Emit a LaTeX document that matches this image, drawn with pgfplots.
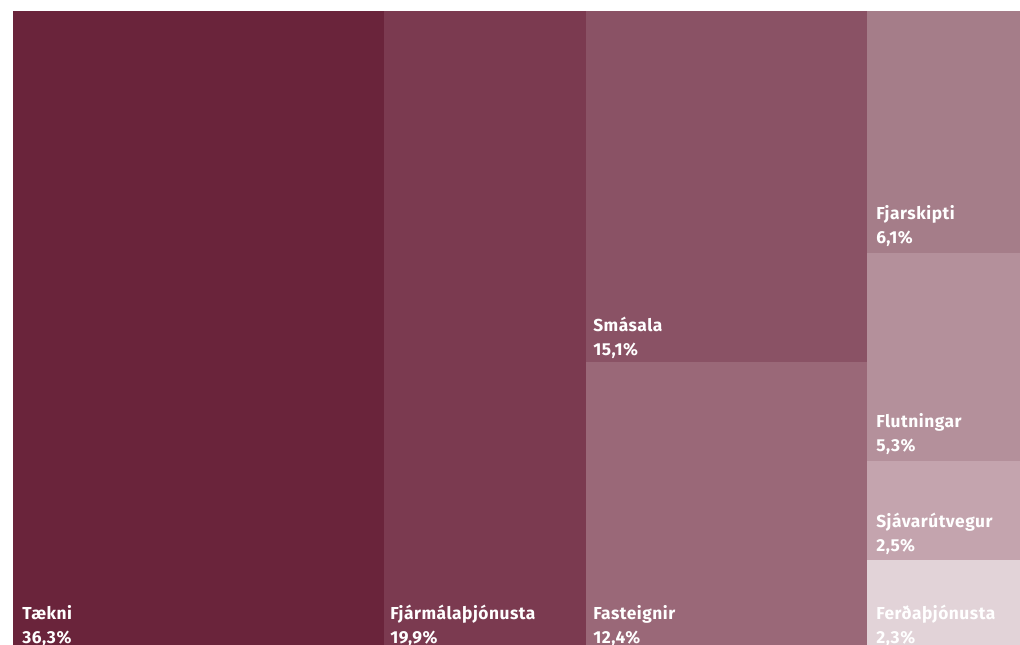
\documentclass[border=0pt]{standalone}
\usepackage{pgfplots}
\pgfplotsset{compat=1.18}
\usepackage{fontspec}
\setmainfont{Fira Sans}[LetterSpace=3]
\definecolor{cA}{HTML}{6A243B}
\definecolor{cB}{HTML}{7B3A50}
\definecolor{cC}{HTML}{8A5265}
\definecolor{cD}{HTML}{9A6878}
\definecolor{cE}{HTML}{A57D89}
\definecolor{cF}{HTML}{B4909B}
\definecolor{cG}{HTML}{C4A4AE}
\definecolor{cH}{HTML}{E2D3D8}
\tikzset{lbl/.style={anchor=base west, text=white, font=\bfseries\fontsize{13}{15}\selectfont, inner sep=0pt}}
\begin{document}
\begin{tikzpicture}
\begin{axis}[
  at={(0,0)}, anchor=north west,
  width=765pt, height=483.75pt, scale only axis,
  xmin=0, xmax=1020, ymin=0, ymax=645, y dir=reverse,
  hide axis, clip=false,
]
% tiles (pixel-space treemap rectangles)
\addplot[fill=cA, draw=none] coordinates {(13,11) (384,11) (384,652) (13,652)} -- cycle;
\addplot[fill=cB, draw=none] coordinates {(384,11) (586,11) (586,652) (384,652)} -- cycle;
\addplot[fill=cC, draw=none] coordinates {(586,11) (867,11) (867,362) (586,362)} -- cycle;
\addplot[fill=cD, draw=none] coordinates {(586,362) (867,362) (867,652) (586,652)} -- cycle;
\addplot[fill=cE, draw=none] coordinates {(867,11) (1020,11) (1020,253) (867,253)} -- cycle;
\addplot[fill=cF, draw=none] coordinates {(867,253) (1020,253) (1020,461) (867,461)} -- cycle;
\addplot[fill=cG, draw=none] coordinates {(867,461) (1020,461) (1020,560) (867,560)} -- cycle;
\addplot[fill=cH, draw=none] coordinates {(867,560) (1020,560) (1020,652) (867,652)} -- cycle;
% labels
\node[lbl] at (axis cs:22,619) {Tækni};
\node[lbl] at (axis cs:22,643) {36,3\%};
\node[lbl] at (axis cs:390,619) {Fjármálaþjónusta};
\node[lbl] at (axis cs:390,643) {19,9\%};
\node[lbl] at (axis cs:593,331) {Smásala};
\node[lbl] at (axis cs:593,355) {15,1\%};
\node[lbl] at (axis cs:593,619) {Fasteignir};
\node[lbl] at (axis cs:593,643) {12,4\%};
\node[lbl] at (axis cs:876,219) {Fjarskipti};
\node[lbl] at (axis cs:876,243) {6,1\%};
\node[lbl] at (axis cs:876,427) {Flutningar};
\node[lbl] at (axis cs:876,451) {5,3\%};
\node[lbl] at (axis cs:876,527) {Sjávarútvegur};
\node[lbl] at (axis cs:876,551) {2,5\%};
\node[lbl] at (axis cs:876,619) {Ferðaþjónusta};
\node[lbl] at (axis cs:876,643) {2,3\%};
\end{axis}
\pgfresetboundingbox
\path[use as bounding box] (0,0) rectangle (765pt,-483.75pt);
\end{tikzpicture}
\end{document}
